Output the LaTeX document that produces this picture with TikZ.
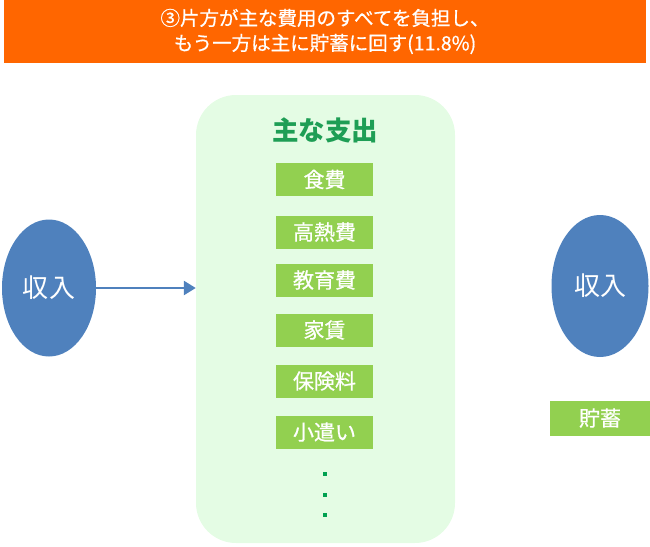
\documentclass[tikz,border=0pt]{standalone}
\usepackage{fontspec}
\setmainfont{Noto Sans CJK JP}
\newfontfamily\cjk{Noto Sans CJK JP}
\newfontfamily\cjkmed{Noto Sans CJK JP}[FakeBold=0.7]
\usetikzlibrary{arrows.meta,shapes.geometric}
\definecolor{bannerorange}{HTML}{FF6600}
\definecolor{incomeblue}{HTML}{4F81BD}
\definecolor{panelgreen}{HTML}{E4FCE4}
\definecolor{itemgreen}{HTML}{92D050}
\definecolor{titlegreen}{HTML}{1E9E55}
\definecolor{dotgreen}{HTML}{00A050}
\tikzset{
  itembox/.style={fill=itemgreen, minimum width=97pt, minimum height=33pt, inner sep=0pt, text=white, font=\cjkmed\fontsize{21}{23}\selectfont},
  income/.style={ellipse, fill=incomeblue, text=white, font=\cjk\fontsize{26}{28}\selectfont},
  dot/.style={fill=dotgreen, minimum size=4.5pt, inner sep=0pt},
  flow/.style={draw=incomeblue, line width=2.5pt, -{Triangle[length=12pt,width=14pt]}}
}
\begin{document}
\begin{tikzpicture}[x=1pt,y=-1pt]
\useasboundingbox (0,0) rectangle (650,546);
% banner
\node[fill=bannerorange, minimum width=642pt, minimum height=63pt, inner sep=0pt, text=white, align=center,
  font=\cjkmed\fontsize{19.5}{25}\selectfont] (banner) at (325,31.5)
  {③片方が主な費用のすべてを負担し、\\もう一方は主に貯蓄に回す(11.8\%)};
% panel
\node[fill=panelgreen, rounded corners=40pt, minimum width=259pt, minimum height=448pt, inner sep=0pt] (panel) at (325.5,319) {};
\node[text=titlegreen, font=\cjk\bfseries\fontsize{26.5}{29}\selectfont] (ptitle) at (325,130) {主な支出};
\node[itembox] (food) at (324.5,179.5) {食費};
\node[itembox] (util) at (324.5,232) {高熱費};
\node[itembox] (edu) at (324.5,280) {教育費};
\node[itembox] (rent) at (324.5,330) {家賃};
\node[itembox] (ins) at (324.5,381) {保険料};
\node[itembox] (pocket) at (324.5,432) {小遣い};
\node[dot] (d1) at (325,474) {};
\node[dot] (d2) at (325,495) {};
\node[dot] (d3) at (325,515) {};
% incomes
\node[income, minimum width=94pt, minimum height=137pt, inner sep=0pt] (incL) at (49,288) {収入};
\node[income, minimum width=97pt, minimum height=142pt, inner sep=0pt] (incR) at (600,286) {収入};
\node[itembox, minimum width=100pt, minimum height=35pt] (save) at (600,418) {貯蓄};
\coordinate (arrS) at (80,288);
\draw[flow] (arrS) -- (panel.west |- arrS);
\end{tikzpicture}
\end{document}
